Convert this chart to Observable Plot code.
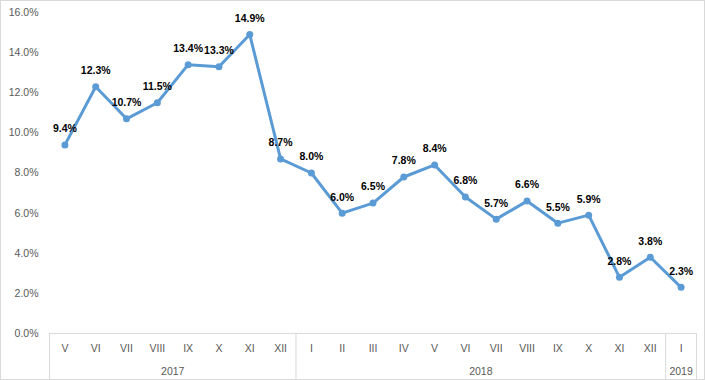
<!DOCTYPE html>
<html><head><meta charset="utf-8">
<script src="https://cdn.jsdelivr.net/npm/d3@7"></script>
<script src="https://cdn.jsdelivr.net/npm/@observablehq/plot@0.6"></script>
<style>
body{margin:0;background:#fff;}
#wrap{position:relative;width:705px;height:380px;}
#frame{position:absolute;left:0;top:0;width:705px;height:380px;box-sizing:border-box;border:1px solid #d9d9d9;pointer-events:none;}
</style>
</head><body>
<div id="wrap"><div id="chart"></div><div id="frame"></div></div>
<script>
const months = ["V","VI","VII","VIII","IX","X","XI","XII","I","II","III","IV","V","VI","VII","VIII","IX","X","XI","XII","I"];
const values = [9.4,12.3,10.7,11.5,13.4,13.3,14.9,8.7,8.0,6.0,6.5,7.8,8.4,6.8,5.7,6.6,5.5,5.9,2.8,3.8,2.3];
const yearLabels = ["2017","2018","2019"];
const yearStarts = [0,8,20];
const yearEnds = [8,20,21];
const yTicks = [0,2,4,6,8,10,12,14,16];

const data = values.map((v,i)=>({i, v, month: months[i]}));
const years = yearLabels.map((y,k)=>({year:y, start:yearStarts[k], end:yearEnds[k]}));
const bounds = Array.from(new Set(years.flatMap(g=>[g.start,g.end])));

const blue = "#5B9BD5";
const font = "Liberation Sans, Arial, sans-serif";

const chart = Plot.plot({
  width: 705,
  height: 380,
  marginLeft: 49,
  marginRight: 9,
  marginTop: 12,
  marginBottom: 47,
  style: {fontFamily: font, fontSize: "10.5px", background: "transparent"},
  x: {domain: [0, months.length], axis: null},
  y: {domain: [0, 16], axis: null},
  marks: [
    Plot.axisY(yTicks, {tickSize: 0, tickPadding: 11, label: null, tickFormat: d => d.toFixed(1) + "%", fill: "#595959", fontSize: 10.5}),
    Plot.ruleY([0], {stroke: "#d9d9d9"}),
    Plot.ruleX(bounds, {y1: () => 0, y2: () => 0, insetBottom: -47, stroke: "#d9d9d9"}),
    Plot.text(data, {x: d => d.i + 0.5, y: () => 0, text: "month", dy: 15, fill: "#595959", fontSize: 10.5}),
    Plot.text(years, {x: d => (d.start + d.end) / 2, y: () => 0, text: "year", dy: 38, fill: "#595959", fontSize: 10.5}),
    Plot.line(data, {x: d => d.i + 0.5, y: "v", stroke: blue, strokeWidth: 3, strokeLinejoin: "round"}),
    Plot.dot(data, {x: d => d.i + 0.5, y: "v", r: 3.5, fill: blue, stroke: null}),
    Plot.text(data, {x: d => d.i + 0.5, y: "v", text: d => d.v.toFixed(1) + "%", dy: -16, fill: "#000", fontWeight: "bold", fontSize: 10.5})
  ]
});
document.getElementById("chart").appendChild(chart);
</script>
</body></html>
